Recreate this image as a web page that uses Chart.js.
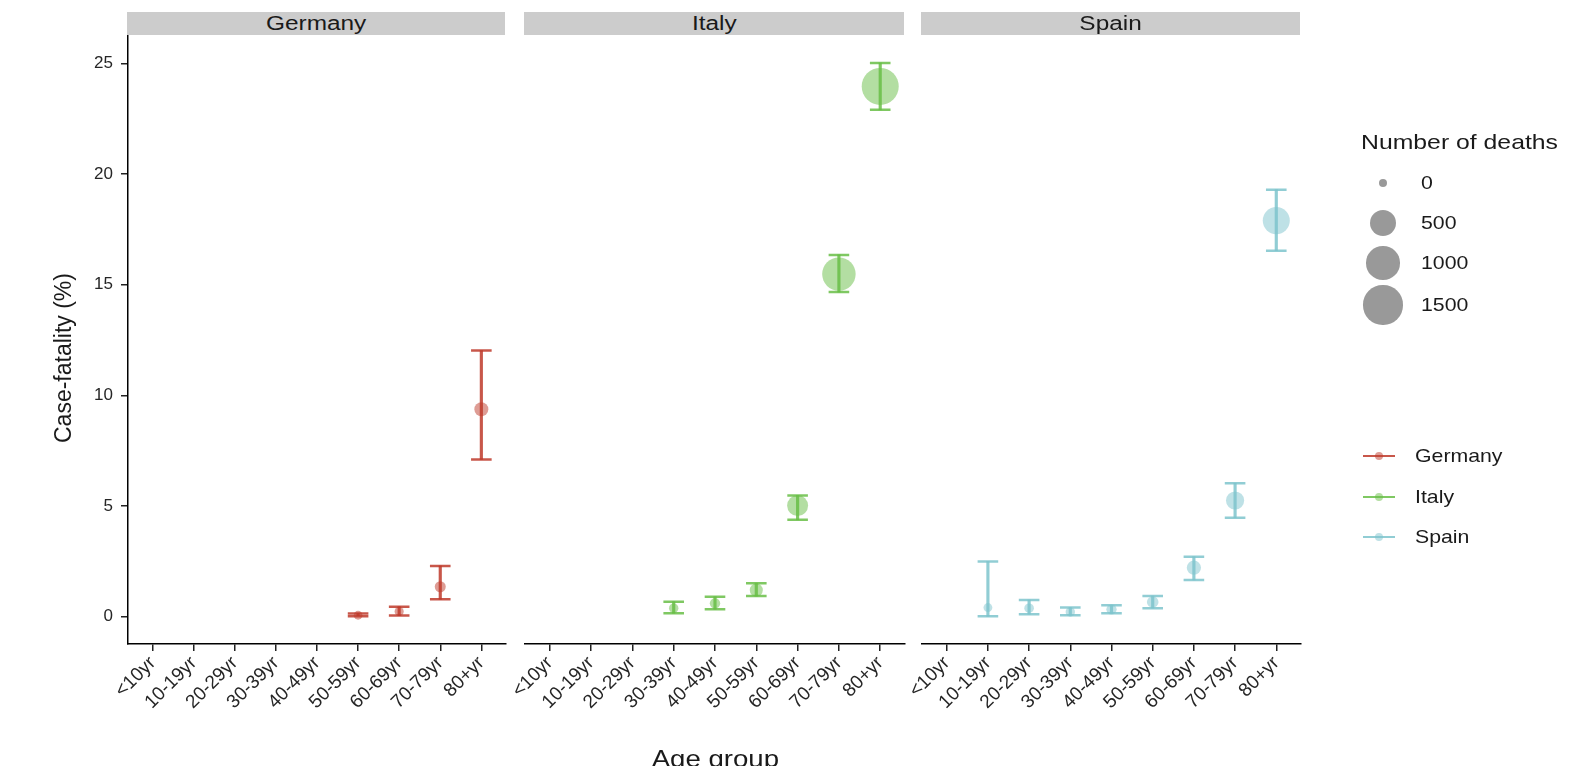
<!DOCTYPE html>
<html><head><meta charset="utf-8">
<script src="https://cdn.jsdelivr.net/npm/chart.js@4.4.0/dist/chart.umd.min.js"></script>
<style>
html,body{margin:0;padding:0;background:#fff;}
#wrap{position:relative;width:1594px;height:771px;overflow:hidden;font-family:"Liberation Sans",Arial,sans-serif;background:#fff;}
canvas{position:absolute;left:0;top:0;}
.strip{position:absolute;top:12px;height:23px;background:#cccccc;color:#1a1a1a;font-size:20px;line-height:23px;text-align:center;}
.strip span{display:inline-block;transform:scaleX(1.22);transform-origin:center center;}
.lg{position:absolute;color:#1a1a1a;white-space:nowrap;}
.lg span{display:inline-block;transform-origin:left center;}
.key{position:absolute;border-radius:50%;}
#xt{position:absolute;left:515px;width:400px;top:745px;text-align:center;font-size:24px;line-height:28px;color:#1a1a1a;}
#xt span{display:inline-block;transform:scaleX(1.15);transform-origin:center center;}
#yt{position:absolute;left:-57px;top:344px;width:240px;height:28px;line-height:28px;text-align:center;font-size:23px;color:#1a1a1a;transform:rotate(-90deg);transform-origin:center center;}
#cut{position:absolute;left:0;top:766px;width:1594px;height:5px;background:#fff;}
</style>
</head><body>
<div id="wrap">
  <canvas id="cG" width="1594" height="771"></canvas>
  <canvas id="cI" width="1594" height="771"></canvas>
  <canvas id="cS" width="1594" height="771"></canvas>
  <div id="xt"><span>Age group</span></div>
  <div id="yt">Case-fatality (%)</div>
  <div id="cut"></div>
</div>
<script>
// ---------- data ----------
const ageGroups = ['<10yr','10-19yr','20-29yr','30-39yr','40-49yr','50-59yr','60-69yr','70-79yr','80+yr'];
const yTicks = [0, 5, 10, 15, 20, 25];
const countries = ['Germany', 'Italy', 'Spain'];
const countryColors = ['190,58,42', '104,190,70', '126,196,205'];

const germanyCfr    = [null, null, null, null, null, 0.05, 0.22, 1.34, 9.37];
const germanyLow    = [null, null, null, null, null, 0.00, 0.04, 0.77, 7.10];
const germanyHigh   = [null, null, null, null, null, 0.13, 0.44, 2.28, 12.02];
const germanyDeaths = [null, null, null, null, null, 1, 2, 14, 55];

const italyCfr    = [null, null, null, 0.37, 0.59, 1.19, 5.01, 15.48, 23.97];
const italyLow    = [null, null, null, 0.14, 0.32, 0.92, 4.37, 14.67, 22.91];
const italyHigh   = [null, null, null, 0.66, 0.89, 1.50, 5.47, 16.35, 25.03];
const italyDeaths = [null, null, null, 3, 9, 40, 260, 1000, 1300];

const spainCfr    = [null, 0.40, 0.37, 0.20, 0.32, 0.65, 2.20, 5.24, 17.90];
const spainLow    = [null, 0.00, 0.10, 0.05, 0.14, 0.37, 1.65, 4.46, 16.54];
const spainHigh   = [null, 2.48, 0.74, 0.40, 0.50, 0.92, 2.70, 6.02, 19.30];
const spainDeaths = [null, 1, 4, 3, 8, 20, 60, 160, 560];

const sizeLegendValues = [0, 500, 1000, 1500];

// ---------- layout / style ----------
const W = 1594, H = 771;
const FONT = '"Liberation Sans", Arial, sans-serif';
const panels = [[128, 506], [525, 905], [922, 1301]];
const plotTop = 36, plotBottom = 644;
function radiusFor(d) { return 4 + 9 * Math.sqrt(d / 500); }
function rgba(c, a) { return 'rgba(' + c + ',' + a + ')'; }

function build(id, i, cfr, lo, hi, deaths) {
  const col = countryColors[i];
  const first = i === 0;
  const [pl, pr] = panels[i];
  return new Chart(document.getElementById(id), {
    type: 'bar',
    data: {
      labels: ageGroups,
      datasets: [
        { type: 'bar', data: lo.map((v, k) => v == null ? null : [v, hi[k]]),
          backgroundColor: rgba(col, 0.85), borderWidth: 0, barThickness: 2.5, grouped: false, order: 1 },
        { type: 'line', data: lo, showLine: false, pointStyle: 'line', pointRadius: 10.3,
          pointBorderWidth: 2.5, pointBorderColor: rgba(col, 0.85), order: 2 },
        { type: 'line', data: hi, showLine: false, pointStyle: 'line', pointRadius: 10.3,
          pointBorderWidth: 2.5, pointBorderColor: rgba(col, 0.85), order: 2 },
        { type: 'line', data: cfr, showLine: false, pointStyle: 'circle',
          pointRadius: c => deaths[c.dataIndex] == null ? 0 : radiusFor(deaths[c.dataIndex]),
          pointBackgroundColor: rgba(col, 0.5), pointBorderWidth: 0, order: 3 }
      ]
    },
    options: {
      responsive: false, animation: false, devicePixelRatio: 1,
      layout: { padding: { left: first ? 0 : pl, right: W - pr, top: plotTop, bottom: 0 } },
      plugins: { legend: { display: false }, tooltip: { enabled: false } },
      scales: {
        x: {
          type: 'category', offset: false,
          grid: { display: true, drawOnChartArea: false, drawTicks: true, tickLength: 7, color: '#222', lineWidth: 1.5, offset: false },
          border: { display: true, color: '#000', width: 1.5 },
          ticks: { autoSkip: false, minRotation: 45, maxRotation: 45, color: '#262626', padding: 1, font: { size: 19, family: FONT } },
          afterBuildTicks: s => { s._startValue = -0.6; s._valueRange = ageGroups.length - 1 + 1.2; },
          afterFit: s => { s.height = H - plotBottom; s.paddingLeft = 0; s.paddingRight = 0; }
        },
        y: {
          display: first, min: -1.25, max: 26.25,
          grid: { display: true, drawOnChartArea: false, drawTicks: true, tickLength: 7, color: '#222', lineWidth: 1.5 },
          border: { display: true, color: '#000', width: 1.5 },
          ticks: { color: '#262626', padding: 8, font: { size: 17, family: FONT } },
          afterBuildTicks: s => { s.ticks = yTicks.map(v => ({ value: v })); },
          afterFit: s => { if (first) s.width = pl; }
        }
      }
    }
  });
}

build('cG', 0, germanyCfr, germanyLow, germanyHigh, germanyDeaths);
build('cI', 1, italyCfr, italyLow, italyHigh, italyDeaths);
build('cS', 2, spainCfr, spainLow, spainHigh, spainDeaths);

// ---------- strips & legends ----------
const wrap = document.getElementById('wrap');
function add(cls, css, text, sx) {
  const d = document.createElement('div');
  d.className = cls;
  Object.assign(d.style, css);
  if (text != null) {
    const s = document.createElement('span');
    s.textContent = text;
    if (sx) s.style.transform = 'scaleX(' + sx + ')';
    d.appendChild(s);
  }
  wrap.appendChild(d);
  return d;
}
countries.forEach((c, i) => {
  add('strip', { left: (panels[i][0] - 1) + 'px', width: (panels[i][1] - panels[i][0]) + 'px' }, c);
});
add('lg', { left: '1361px', top: '129px', fontSize: '21px', lineHeight: '26px' }, 'Number of deaths', 1.18);
const keyY = [183, 223, 263, 305];
sizeLegendValues.forEach((v, k) => {
  const r = radiusFor(v);
  add('key', { left: (1383 - r) + 'px', top: (keyY[k] - r) + 'px', width: 2 * r + 'px', height: 2 * r + 'px', background: 'rgba(0,0,0,0.4)' });
  add('lg', { left: '1421px', top: (keyY[k] - 11) + 'px', fontSize: '19px', lineHeight: '22px' }, String(v), 1.12);
});
const cY = [456, 497, 537];
countries.forEach((c, k) => {
  const col = countryColors[k];
  add('key', { left: '1363px', top: (cY[k] - 1.25) + 'px', width: '32px', height: '2.5px', borderRadius: '0', background: rgba(col, 0.85) });
  add('key', { left: '1375px', top: (cY[k] - 4) + 'px', width: '8px', height: '8px', background: rgba(col, 0.5) });
  add('lg', { left: '1415px', top: (cY[k] - 11) + 'px', fontSize: '19px', lineHeight: '22px' }, c, 1.12);
});
</script>
</body></html>
